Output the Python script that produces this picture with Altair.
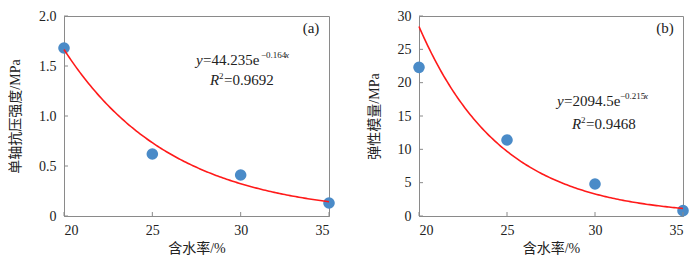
import altair as alt
import pandas as pd

# ---- data ----
moisture = [20, 25, 30, 35]
ucs = [1.68, 0.62, 0.41, 0.13]          # 单轴抗压强度 / MPa
modulus = [22.3, 11.4, 4.8, 0.8]        # 弹性模量 / MPa
fit_a = [44.235, 2094.5]
fit_b = [-0.164, -0.215]
fit_r2 = ["0.9692", "0.9468"]
fit_a_txt = ["44.235", "2094.5"]
fit_b_txt = ["\u22120.164", "\u22120.215"]
x_ticks = [20, 25, 30, 35]
y_ticks_a = [0, 0.5, 1.0, 1.5, 2.0]
y_ticks_b = [0, 5, 10, 15, 20, 25, 30]
tags = ["(a)", "(b)"]
y_titles = ["单轴抗压强度/MPa", "弹性模量/MPa"]
x_title = "含水率/%"

SERIF = "Liberation Serif"
CJK = "Liberation Serif, Noto Sans CJK SC"
H = 200
GRAY = "#8a8a8a"
BLUE = "#4a8bc8"


def panel(yvals, yticks, ymax, a, b, a_txt, b_txt, r2, tag, ytitle, W,
          ann_x, ann_y, r_x, r_y, sup_dx, yfmt):
    df = pd.DataFrame({"x": moisture, "y": yvals})
    xs = alt.Scale(domain=[20, 35], nice=False)
    ys = alt.Scale(domain=[0, ymax], nice=False)
    xaxis = alt.Axis(values=x_ticks, title=x_title, ticks=False, grid=False,
                     labelPadding=7, titlePadding=4)
    yaxis = alt.Axis(values=yticks, title=ytitle, ticks=False, grid=False,
                     labelPadding=8, titlePadding=16, labelExpr=yfmt)

    pts = alt.Chart(df).mark_circle(size=135, color=BLUE, opacity=1).encode(
        x=alt.X("x:Q", scale=xs, axis=xaxis),
        y=alt.Y("y:Q", scale=ys, axis=yaxis),
    )
    curve = alt.Chart(alt.sequence(20, 35.01, 0.1, as_="x")).transform_calculate(
        y=f"{a}*exp({b}*datum.x)"
    ).mark_line(color="#ff1a1a", strokeWidth=1.6).encode(
        x=alt.X("x:Q", scale=xs, axis=xaxis),
        y=alt.Y("y:Q", scale=ys, axis=yaxis),
    )
    yt = alt.Chart(pd.DataFrame({"y": yticks})).mark_rule(color=GRAY).encode(
        y=alt.Y("y:Q", scale=ys, axis=yaxis), x=alt.value(0), x2=alt.value(4))
    xt = alt.Chart(pd.DataFrame({"x": x_ticks})).mark_rule(color=GRAY).encode(
        x=alt.X("x:Q", scale=xs, axis=xaxis), y=alt.value(H), y2=alt.value(H - 4))

    def txt(s, x, y, size=15, style="normal", align="left"):
        return alt.Chart(pd.DataFrame({"t": [s]})).mark_text(
            font=SERIF, fontSize=size, fontStyle=style, align=align,
            baseline="alphabetic", color="#222"
        ).encode(x=alt.value(x), y=alt.value(y), text="t:N")

    ann = [
        txt("y", ann_x, ann_y, style="italic"),
        txt("=" + a_txt + "e", ann_x + 7, ann_y),
        txt(b_txt, ann_x + sup_dx, ann_y - 7, size=9),
        txt("x", ann_x + sup_dx + 24, ann_y - 7, size=9, style="italic"),
        txt("R", r_x, r_y, style="italic"),
        txt("2", r_x + 9, r_y - 6, size=9),
        txt("=" + r2, r_x + 14, r_y),
        txt(tag, W - 18, 17, size=15, align="center"),
    ]
    return alt.layer(pts, yt, xt, curve, *ann).properties(width=W, height=H)


fmt_a = "datum.value == 0 ? '0' : format(datum.value, '.1f')"
fmt_b = "format(datum.value, 'd')"

left = panel(ucs, y_ticks_a, 2.0, fit_a[0], fit_b[0], fit_a_txt[0], fit_b_txt[0],
             fit_r2[0], tags[0], y_titles[0], 265,
             ann_x=132, ann_y=49, r_x=146, r_y=69, sup_dx=65, yfmt=fmt_a)
right = panel(modulus, y_ticks_b, 30, fit_a[1], fit_b[1], fit_a_txt[1], fit_b_txt[1],
              fit_r2[1], tags[1], y_titles[1], 264,
              ann_x=138, ann_y=90, r_x=153, r_y=113, sup_dx=63, yfmt=fmt_b)

chart = alt.hconcat(left, right, spacing=30).properties(
    padding={"left": 0, "top": 0, "right": 0, "bottom": 0}
).configure_view(stroke=GRAY, strokeWidth=1).configure_axis(
    domainColor=GRAY, labelFont=SERIF, labelFontSize=14, labelColor="#222",
    titleFont=CJK, titleFontSize=14, titleFontWeight="normal", titleColor="#222",
)

chart.save("out.html", embed_options={"renderer": "svg", "actions": False})
